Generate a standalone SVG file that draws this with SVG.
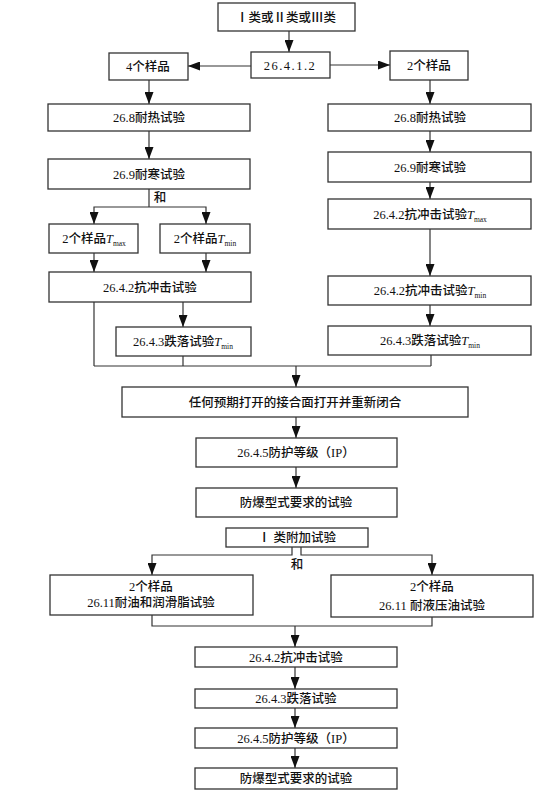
<svg xmlns="http://www.w3.org/2000/svg" width="557" height="800" viewBox="0 0 557 800">
<style>
rect{fill:#fff;stroke:#333;stroke-width:1.3}
text{font-family:"Liberation Serif","Noto Sans CJK SC",serif;font-size:12.5px;fill:#111;text-anchor:middle;font-weight:500}
.c line,.c polyline{stroke:#333;stroke-width:1.2;fill:none}
.a{marker-end:url(#ah)}
.sub{font-size:7.5px;font-weight:normal}
.it{font-style:italic;font-weight:normal;font-size:12.5px}
</style>
<defs>
<marker id="ah" markerUnits="userSpaceOnUse" markerWidth="12" markerHeight="9" refX="12" refY="4.5" orient="auto">
<path d="M0,0 L12,4.5 L0,9 z" fill="#111"/>
</marker>
</defs>
<rect x="0" y="0" width="557" height="800" style="stroke:none"/>
<g class="c" id="connectors">
<line class="a" x1="289" y1="31" x2="289" y2="52"/>
<line class="a" x1="251" y1="66" x2="188" y2="66"/>
<line class="a" x1="330" y1="65" x2="390" y2="65"/>
<line class="a" x1="149" y1="80" x2="149" y2="104"/>
<line class="a" x1="149" y1="131" x2="149" y2="159"/>
<line x1="149" y1="189" x2="149" y2="207"/>
<polyline class="a" points="149,207 94,207 94,224"/>
<polyline class="a" points="149,207 206,207 206,224"/>
<line class="a" x1="94" y1="253" x2="94" y2="272"/>
<line class="a" x1="206" y1="253" x2="206" y2="272"/>
<line x1="94" y1="302" x2="94" y2="366"/>
<line class="a" x1="183" y1="302" x2="183" y2="327"/>
<line x1="183" y1="356" x2="183" y2="366"/>
<line class="a" x1="430" y1="80" x2="430" y2="104"/>
<line class="a" x1="430" y1="131" x2="430" y2="152"/>
<line class="a" x1="430" y1="182" x2="430" y2="199"/>
<line class="a" x1="430" y1="229" x2="430" y2="276"/>
<line class="a" x1="430" y1="305" x2="430" y2="326"/>
<line x1="431" y1="355" x2="431" y2="366"/>
<line x1="94" y1="366" x2="431" y2="366"/>
<line class="a" x1="296" y1="366" x2="296" y2="387"/>
<line class="a" x1="296" y1="417" x2="296" y2="438"/>
<line class="a" x1="296" y1="467" x2="296" y2="488"/>
<polyline class="a" points="292,547 292,555 152,555 152,575"/>
<polyline class="a" points="301,547 301,555 432,555 432,575"/>
<polyline points="152,615 152,626 432,626 432,617"/>
<line class="a" x1="295" y1="626" x2="295" y2="647"/>
<line class="a" x1="295" y1="667" x2="295" y2="689"/>
<line class="a" x1="295" y1="708" x2="295" y2="728"/>
<line class="a" x1="295" y1="748" x2="295" y2="768"/>
<text x="160" y="202">和</text>
<text x="297" y="569">和</text>
</g>
<g id="n_top"><rect x="218" y="3" width="137" height="28"/><text x="286" y="21.5">Ⅰ类或Ⅱ类或Ⅲ类</text></g>
<g id="n_2641"><rect x="251" y="52" width="79" height="26"/><text x="290" y="69.5" letter-spacing="1.5">26.4.1.2</text></g>
<g id="n_4s"><rect x="109" y="53" width="79" height="27"/><text x="148" y="71">4个样品</text></g>
<g id="n_2s"><rect x="390" y="51" width="78" height="29"/><text x="429" y="70">2个样品</text></g>
<g id="n_l268"><rect x="48" y="104" width="202" height="27"/><text x="149" y="122">26.8耐热试验</text></g>
<g id="n_l269"><rect x="48" y="159" width="202" height="30"/><text x="149" y="178.5">26.9耐寒试验</text></g>
<g id="n_ltmax"><rect x="49" y="224" width="89" height="29"/><text x="94" y="243">2个样品<tspan class="it">T</tspan><tspan class="sub" dy="3">max</tspan></text></g>
<g id="n_ltmin"><rect x="160" y="224" width="90" height="29"/><text x="205" y="243">2个样品<tspan class="it">T</tspan><tspan class="sub" dy="3">min</tspan></text></g>
<g id="n_l2642"><rect x="49" y="272" width="202" height="30"/><text x="150" y="291.5">26.4.2抗冲击试验</text></g>
<g id="n_l2643"><rect x="116" y="327" width="135" height="29"/><text x="183" y="346">26.4.3跌落试验<tspan class="it">T</tspan><tspan class="sub" dy="3">min</tspan></text></g>
<g id="n_r268"><rect x="328" y="104" width="203" height="27"/><text x="430" y="122">26.8耐热试验</text></g>
<g id="n_r269"><rect x="328" y="152" width="203" height="30"/><text x="430" y="171.5">26.9耐寒试验</text></g>
<g id="n_r2642max"><rect x="328" y="199" width="203" height="30"/><text x="430" y="218.5">26.4.2抗冲击试验<tspan class="it">T</tspan><tspan class="sub" dy="3">max</tspan></text></g>
<g id="n_r2642min"><rect x="328" y="276" width="203" height="29"/><text x="430" y="295">26.4.2抗冲击试验<tspan class="it">T</tspan><tspan class="sub" dy="3">min</tspan></text></g>
<g id="n_r2643"><rect x="328" y="326" width="203" height="29"/><text x="430" y="345">26.4.3跌落试验<tspan class="it">T</tspan><tspan class="sub" dy="3">min</tspan></text></g>
<g id="n_open"><rect x="122" y="387" width="346" height="30"/><text x="295" y="406.5">任何预期打开的接合面打开并重新闭合</text></g>
<g id="n_ip1"><rect x="196" y="438" width="201" height="29"/><text x="296" y="457">26.4.5防护等级（IP）</text></g>
<g id="n_ex1"><rect x="196" y="488" width="201" height="29"/><text x="296" y="507">防爆型式要求的试验</text></g>
<g id="n_cls1"><rect x="226" y="528" width="142" height="19"/><text x="297" y="542">Ⅰ 类附加试验</text></g>
<g id="n_oil"><rect x="50" y="575" width="203" height="40"/><text x="151" y="591">2个样品</text><text x="151" y="607">26.11耐油和润滑脂试验</text></g>
<g id="n_hyd"><rect x="331" y="575" width="202" height="42"/><text x="432" y="591">2个样品</text><text x="432" y="610">26.11 耐液压油试验</text></g>
<g id="n_2642"><rect x="195" y="647" width="202" height="20"/><text x="296" y="661.5">26.4.2抗冲击试验</text></g>
<g id="n_2643"><rect x="195" y="689" width="202" height="19"/><text x="296" y="703">26.4.3跌落试验</text></g>
<g id="n_ip2"><rect x="195" y="728" width="202" height="20"/><text x="296" y="742.5">26.4.5防护等级（IP）</text></g>
<g id="n_ex2"><rect x="195" y="768" width="202" height="21"/><text x="296" y="783">防爆型式要求的试验</text></g>
</svg>
